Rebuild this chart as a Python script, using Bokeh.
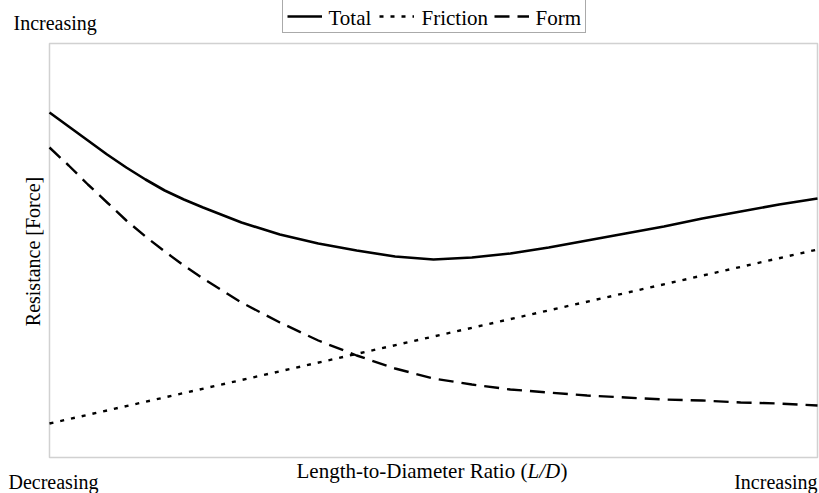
import math
from bokeh.plotting import figure
from bokeh.models import Range1d, Label, Legend, LegendItem, BoxAnnotation
from bokeh.embed import file_html
from bokeh.resources import INLINE

# L/D position along the axis (0 = decreasing, 100 = increasing), arbitrary units
ld_pos = [0, 2.5, 5, 7.5, 10, 12.5, 15, 17.5, 20, 25, 30, 35, 40, 45, 50,
          55, 60, 65, 70, 75, 80, 85, 90, 95, 100]
# resistance components, arbitrary force units
total = [345, 331, 317, 303, 290, 278, 267, 258, 250, 235, 223, 214, 207, 201,
         198, 200, 204, 210, 217, 224, 231, 239, 246, 253, 259]
form = [310, 292, 273, 255, 237, 221, 206, 192, 179, 155, 135, 117, 102, 89,
        79, 73, 68, 65, 62, 60, 58, 57, 55, 54, 52]
friction_pos = [0, 50, 100]
friction = [34, 121, 208]

series_names = ["Total", "Friction", "Form"]
x_label = "Length-to-Diameter Ratio ("
x_label_ital = "L/D"
y_label = "Resistance [Force]"
low_text = "Decreasing"
high_text = "Increasing"

# axis extent of the drawn box
X0, X1 = 0, 100
Y0, Y1 = 0, 414

FONT = "Liberation Serif"
FS = "20px"

# the frame spans the whole canvas; the chart box is drawn as an annotation
p = figure(width=819, height=493, output_backend="svg", toolbar_location=None,
           x_range=Range1d(-6.38, 100.26), y_range=Range1d(-36, 457),
           min_border=0)
p.xaxis.visible = False
p.yaxis.visible = False
p.grid.visible = False
p.outline_line_color = None
p.background_fill_color = "white"
p.border_fill_color = "white"

p.add_layout(BoxAnnotation(left=X0, right=X1, bottom=Y0, top=Y1,
                           fill_alpha=0, line_color="#666666", line_width=1.5,
                           level="underlay"))

r_total = p.line(ld_pos, total, line_color="black", line_width=2.6)
r_fric = p.line(friction_pos, friction, line_color="black", line_width=2.4,
                line_dash="4 7")
r_form = p.line(ld_pos, form, line_color="black", line_width=2.4,
                line_dash="15 8")

# legend box and glyph samples; the entry names are set in serif type below
legend = Legend(items=[LegendItem(label=series_names[0], renderers=[r_total]),
                       LegendItem(label=series_names[1], renderers=[r_fric]),
                       LegendItem(label=series_names[2], renderers=[r_form])],
                orientation="horizontal", location=(282, 460),
                glyph_width=35, glyph_height=20, label_standoff=6, spacing=8,
                padding=4, margin=0, label_text_font=FONT,
                label_text_font_size="21px", label_text_alpha=0.0,
                label_height=20,
                border_line_color="#555555", border_line_width=1,
                background_fill_alpha=0.0)
p.add_layout(legend, "center")


def lab(txt, x, y, align="left", angle=0.0, style="normal", size=FS):
    # positions in pixels from the canvas bottom-left corner
    p.add_layout(Label(x=x, y=y, x_units="screen", y_units="screen", text=txt,
                       text_font=FONT, text_font_size=size, text_align=align,
                       text_baseline="middle", angle=angle,
                       text_font_style=style, text_color="black",
                       level="overlay"))


# legend entry names
lab(series_names[0], 328, 476, size="21px")
lab(series_names[1], 421, 476, size="21px")
lab(series_names[2], 535, 476, size="21px")

lab(high_text, 13, 471)
lab(low_text, 8, 12)
lab(high_text, 817, 12, align="right")
lab(x_label, 296, 23, size="21px")
lab(x_label_ital, 527, 23, style="italic", size="21px")
lab(")", 560, 23, size="21px")
lab(y_label, 32, 242, align="center", angle=math.pi / 2)

open("out.html", "w").write(file_html(p, INLINE))
